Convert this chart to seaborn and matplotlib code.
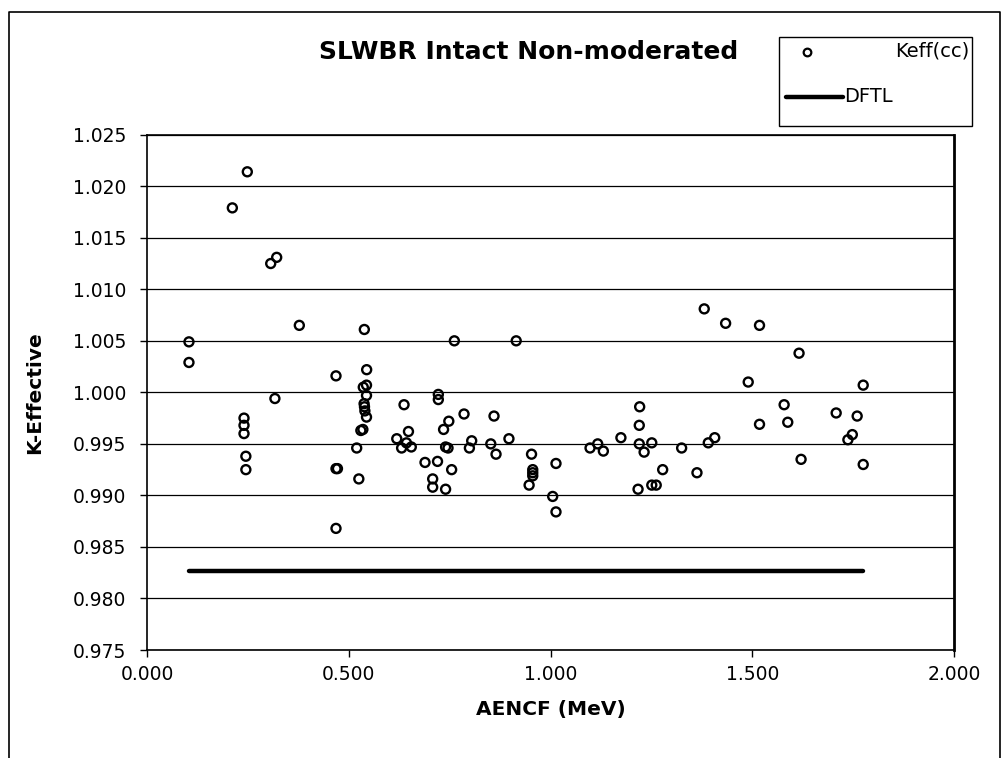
import numpy as np
import pandas as pd
import matplotlib
matplotlib.use("Agg")
import matplotlib.pyplot as plt
import seaborn as sns
from matplotlib.patches import Rectangle
from matplotlib.lines import Line2D

# ---- data ----
aencf = [0.104, 0.104, 0.2115, 0.2486, 0.2404, 0.2404, 0.2404, 0.2450, 0.2450,
         0.3066, 0.3214, 0.3170, 0.3775, 0.4684, 0.4684, 0.4720, 0.4684,
         0.5386, 0.5444, 0.5360, 0.5440, 0.5440, 0.5380, 0.5390, 0.5400, 0.5440,
         0.5300, 0.5350, 0.5197, 0.5250,
         0.6190, 0.6310, 0.6430, 0.6550, 0.6370, 0.6480, 0.6890, 0.7080, 0.7080,
         0.7220, 0.7220, 0.7200, 0.7350, 0.7480, 0.7400, 0.7460, 0.7550, 0.7400,
         0.7617, 0.7857, 0.8047, 0.7990, 0.8520, 0.8600, 0.8650, 0.8970, 0.9150,
         0.9530, 0.9560, 0.9560, 0.9560, 0.9470, 1.0136, 1.0054, 1.0136,
         1.0980, 1.1170, 1.1310, 1.1745, 1.2210, 1.2200, 1.2200, 1.2320, 1.2510,
         1.2780, 1.2170, 1.2510, 1.2620, 1.3250, 1.3630, 1.3910, 1.4070, 1.3810,
         1.4340, 1.5180, 1.4900, 1.5180, 1.5790, 1.5880, 1.6160, 1.6210, 1.7080,
         1.7600, 1.7480, 1.7370, 1.7750, 1.7750]
keff = [1.0049, 1.0029, 1.0179, 1.0214, 0.9975, 0.9968, 0.9960, 0.9938, 0.9925,
        1.0125, 1.0131, 0.9994, 1.0065, 1.0016, 0.9926, 0.9926, 0.9868,
        1.0061, 1.0022, 1.0005, 1.0007, 0.9997, 0.9989, 0.9986, 0.9982, 0.9976,
        0.9963, 0.9964, 0.9946, 0.9916,
        0.9955, 0.9946, 0.9951, 0.9947, 0.9988, 0.9962, 0.9932, 0.9916, 0.9908,
        0.9998, 0.9993, 0.9933, 0.9964, 0.9972, 0.9947, 0.9946, 0.9925, 0.9906,
        1.0050, 0.9979, 0.9953, 0.9946, 0.9950, 0.9977, 0.9940, 0.9955, 1.0050,
        0.9940, 0.9925, 0.9922, 0.9919, 0.9910, 0.9931, 0.9899, 0.9884,
        0.9946, 0.9950, 0.9943, 0.9956, 0.9986, 0.9968, 0.9950, 0.9942, 0.9951,
        0.9925, 0.9906, 0.9910, 0.9910, 0.9946, 0.9922, 0.9951, 0.9956, 1.0081,
        1.0067, 1.0065, 1.0010, 0.9969, 0.9988, 0.9971, 1.0038, 0.9935, 0.9980,
        0.9977, 0.9959, 0.9954, 1.0007, 0.9930]
dftl_x = [0.104, 1.775]
dftl_y = [0.9827, 0.9827]

y_ticks = [0.975, 0.980, 0.985, 0.990, 0.995, 1.000, 1.005, 1.010, 1.015, 1.020, 1.025]
x_ticks = [0.0, 0.5, 1.0, 1.5, 2.0]
title = "SLWBR Intact Non-moderated"
xlabel = "AENCF (MeV)"
ylabel = "K-Effective"
series_names = ["Keff(cc)", "DFTL"]

# ---- style ----
sns.set_style("white")
plt.rcParams["font.family"] = ["DejaVu Sans"]
plt.rcParams["text.color"] = "black"
plt.rcParams["axes.labelcolor"] = "black"
plt.rcParams["xtick.color"] = "black"
plt.rcParams["ytick.color"] = "black"

W, H = 1007, 758
fig = plt.figure(figsize=(W / 100, H / 100), dpi=100)

def fx(px):
    return px / W

def fy(py):
    return 1 - py / H

L, R, T, B = 147, 954, 134.7, 650
ax = fig.add_axes([fx(L), fy(B), fx(R) - fx(L), fy(T) - fy(B)])

df = pd.DataFrame({"AENCF": aencf, "Keff": keff})
sns.scatterplot(data=df, x="AENCF", y="Keff", ax=ax, marker="o", s=42,
                facecolors="none", edgecolor="black", linewidth=1.7, zorder=3)
sns.lineplot(x=dftl_x, y=dftl_y, ax=ax, color="black", linewidth=3.2, zorder=2)

ax.set_xlim(0, 2.0)
ax.set_ylim(0.975, 1.025)
ax.set_xticks(x_ticks)
ax.set_yticks(y_ticks)
ax.set_xticklabels([f"{v:.3f}" for v in x_ticks])
ax.set_yticklabels([f"{v:.3f}" for v in y_ticks])
ax.yaxis.grid(True, color="black", linewidth=0.9)
ax.xaxis.grid(False)
ax.tick_params(direction="out", length=5, width=1, color="black",
               labelcolor="black", labelsize=13.5, bottom=True, left=True)
ax.tick_params(axis="y", pad=10)
ax.tick_params(axis="x", pad=6)
for side, sp in ax.spines.items():
    sp.set_color("black")
    sp.set_linewidth(1.2)
ax.spines["right"].set_linewidth(2.0)

ax.set_xlabel(xlabel, fontsize=14.5, fontweight="bold", color="black")
ax.set_ylabel(ylabel, fontsize=14.5, fontweight="bold", color="black")
ax.xaxis.set_label_coords(0.5, (B - 700) / (B - T))
ax.yaxis.set_label_coords((44 - L) / (R - L), 0.5)

# title
fig.text(fx(738), fy(52), title, ha="right", va="center",
         fontsize=18, fontweight="bold", color="black")

# legend (Excel style)
leg_box = Rectangle((fx(779), fy(126)), fx(972) - fx(779), fy(37) - fy(126),
                    transform=fig.transFigure, fill=False, edgecolor="black",
                    linewidth=1.0)
fig.add_artist(leg_box)
fig.add_artist(Line2D([fx(807)], [fy(52)], transform=fig.transFigure, marker="o",
                      markersize=5.5, markerfacecolor="none",
                      markeredgecolor="black", markeredgewidth=1.6, linestyle="none"))
fig.text(fx(969), fy(51), series_names[0], ha="right", va="center",
         fontsize=14, color="black")
fig.add_artist(Line2D([fx(786), fx(843)], [fy(97), fy(97)], transform=fig.transFigure,
                      color="black", linewidth=3.2))
fig.text(fx(844), fy(97), series_names[1], ha="left", va="center",
         fontsize=14, color="black")

# outer chart border
fig.add_artist(Line2D([fx(9), fx(9), fx(1000), fx(1000)],
                      [fy(H + 5), fy(12), fy(12), fy(H + 5)],
                      transform=fig.transFigure, color="black", linewidth=1.2))

fig.savefig("out.png", dpi=100)
